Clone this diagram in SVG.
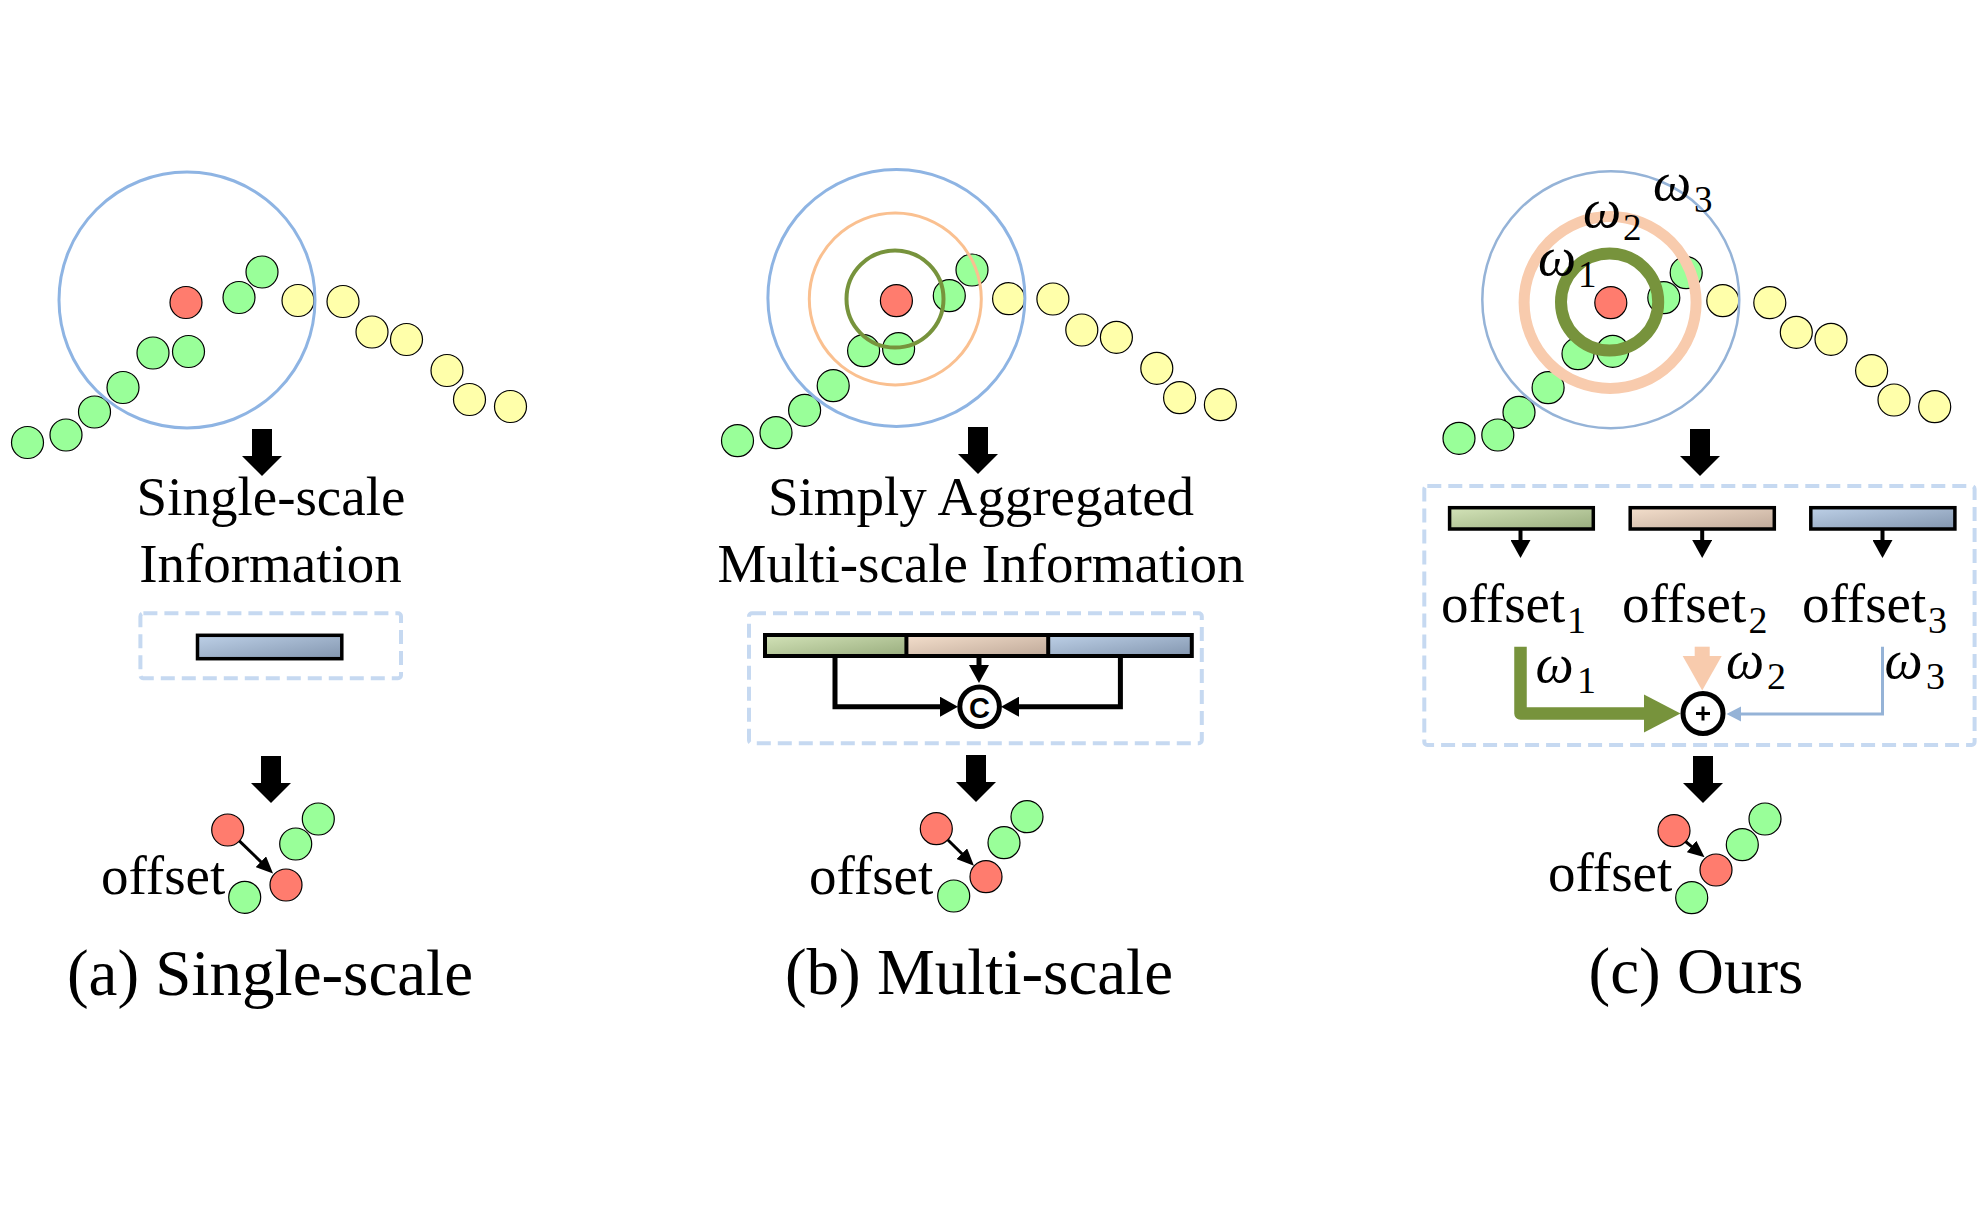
<svg xmlns="http://www.w3.org/2000/svg" xmlns:xlink="http://www.w3.org/1999/xlink" width="1985" height="1213" viewBox="0 0 1985 1213">
<style>
.g{fill:#99FF99;stroke:#000;stroke-width:1.2}
.y{fill:#FFFFAA;stroke:#000;stroke-width:1.2}
.r{fill:#FF7C6E;stroke:#000;stroke-width:1.2}
.ring{fill:none}
.t{font-family:"Liberation Serif","Times New Roman",serif;fill:#000}
.lbl{font-size:55px}
.cap{font-size:65px}
.w{font-family:"Liberation Serif","DejaVu Serif",serif;font-style:italic;font-size:54px;fill:#000}
.sub{font-family:"Liberation Serif",serif;font-style:normal}
.box{fill:none;stroke:#C6D9F1;stroke-width:4;stroke-dasharray:14 7}
.bar{stroke:#000;stroke-width:3.5}
.blk{fill:none;stroke:#000;stroke-width:5}
</style>
<defs>
<linearGradient id="gBlue" x1="0" y1="0" x2="1" y2="1"><stop offset="0" stop-color="#BDD0E7"/><stop offset="1" stop-color="#8396AF"/></linearGradient>
<linearGradient id="gGreen" x1="0" y1="0" x2="1" y2="1"><stop offset="0" stop-color="#D3E3B8"/><stop offset="1" stop-color="#99AD7E"/></linearGradient>
<linearGradient id="gOrange" x1="0" y1="0" x2="1" y2="1"><stop offset="0" stop-color="#F4DFCC"/><stop offset="1" stop-color="#BFA999"/></linearGradient>
<path id="bigArrow" d="M-10 0 H10 V27 H20 L0 47 L-20 27 H-10 Z" fill="#000"/>
<marker id="mHead" viewBox="0 0 18 20" refX="3" refY="10" markerWidth="18" markerHeight="20" markerUnits="userSpaceOnUse" orient="auto"><path d="M0 0 L18 10 L0 20 Z" fill="#000"/></marker>
<marker id="mSmall" viewBox="0 0 17 15" refX="3" refY="7.5" markerWidth="17" markerHeight="15" markerUnits="userSpaceOnUse" orient="auto"><path d="M0 0 L17 7.5 L0 15 Z" fill="#000"/></marker>
</defs>

<g id="connectors">
  <use href="#bigArrow" x="262" y="429"/>
  <use href="#bigArrow" x="271" y="756"/>
  <use href="#bigArrow" x="978" y="427"/>
  <use href="#bigArrow" x="976" y="755"/>
  <use href="#bigArrow" x="1700" y="429"/>
  <use href="#bigArrow" x="1703" y="756"/>
  <path class="blk" d="M835 656 V706.7 H943" marker-end="url(#mHead)"/>
  <path class="blk" d="M1120.4 656 V706.7 H1016" marker-end="url(#mHead)"/>
  <path class="blk" d="M979 656 V668" marker-end="url(#mHead)"/>
  <path fill="none" stroke="#000" stroke-width="4" d="M1520.5 529 V543" marker-end="url(#mHead)"/>
  <path fill="none" stroke="#000" stroke-width="4" d="M1702.2 529 V543" marker-end="url(#mHead)"/>
  <path fill="none" stroke="#000" stroke-width="4" d="M1882.5 529 V543" marker-end="url(#mHead)"/>
  <path d="M1520.5 646.7 V713.5 H1646" fill="none" stroke="#77933C" stroke-width="12.5" stroke-linejoin="round"/>
  <polygon points="1644,694.5 1680.5,713.5 1644,732.5" fill="#77933C"/>
  <rect x="1694.7" y="646.7" width="15" height="10" fill="#F8CBAD"/>
  <polygon points="1682.7,656 1721.7,656 1702.2,690.5" fill="#F8CBAD"/>
  <path d="M1882.5 646.7 V714 H1738" fill="none" stroke="#95B3D7" stroke-width="3"/>
  <polygon points="1741,706.5 1726.5,714 1741,721.5" fill="#95B3D7"/>
  <path fill="none" stroke="#000" stroke-width="3" d="M239.3 840.8 L263 863.8" marker-end="url(#mSmall)"/>
  <path fill="none" stroke="#000" stroke-width="3" d="M947.7 839.7 L964 855.8" marker-end="url(#mSmall)"/>
  <path fill="none" stroke="#000" stroke-width="3" d="M1685.5 841.5 L1693.8 848.4" marker-end="url(#mSmall)"/>
</g>

<g id="points-a">
  <circle class="g" cx="262" cy="272" r="16"/><circle class="g" cx="239" cy="297.5" r="16"/>
  <circle class="g" cx="153" cy="353" r="16"/><circle class="g" cx="188.5" cy="351.5" r="16"/>
  <circle class="g" cx="123" cy="387.5" r="16"/><circle class="g" cx="94.5" cy="412" r="16"/>
  <circle class="g" cx="66" cy="435" r="16"/><circle class="g" cx="27.5" cy="442.5" r="16"/>
  <circle class="y" cx="298" cy="300.5" r="16"/><circle class="y" cx="343" cy="301.5" r="16"/>
  <circle class="y" cx="372" cy="332" r="16"/><circle class="y" cx="406.5" cy="339.5" r="16"/>
  <circle class="y" cx="447" cy="370.5" r="16"/><circle class="y" cx="469.5" cy="399.5" r="16"/>
  <circle class="y" cx="510.5" cy="406.5" r="16"/>
  <circle class="r" cx="186" cy="302.5" r="16"/>
  <circle class="ring" cx="187" cy="300" r="128" stroke="#8EB4E3" stroke-width="3"/>
</g>

<g id="points-b">
  <circle class="g" cx="972" cy="270" r="16"/><circle class="g" cx="949.3" cy="295.7" r="16"/>
  <circle class="g" cx="863.6" cy="350.7" r="16"/><circle class="g" cx="898.6" cy="348.7" r="16"/>
  <circle class="g" cx="833.2" cy="385.7" r="16"/><circle class="g" cx="804.6" cy="410.3" r="16"/>
  <circle class="g" cx="776" cy="432.7" r="16"/><circle class="g" cx="737.5" cy="440.7" r="16"/>
  <circle class="y" cx="1008.6" cy="298.7" r="16"/><circle class="y" cx="1052.9" cy="299" r="16"/>
  <circle class="y" cx="1081.8" cy="330" r="16"/><circle class="y" cx="1116.4" cy="337.3" r="16"/>
  <circle class="y" cx="1156.8" cy="368.3" r="16"/><circle class="y" cx="1179.6" cy="397.7" r="16"/>
  <circle class="y" cx="1220.4" cy="404.7" r="16"/>
  <circle class="r" cx="896.4" cy="300.7" r="16"/>
  <circle class="ring" cx="896.4" cy="298" r="128.5" stroke="#8EB4E3" stroke-width="3"/>
  <circle class="ring" cx="895.3" cy="299" r="86" stroke="#FAC090" stroke-width="3"/>
  <circle class="ring" cx="895" cy="299" r="48.5" stroke="#77933C" stroke-width="4"/>
</g>

<g id="points-c">
  <circle class="g" cx="1686.2" cy="272.7" r="16"/><circle class="g" cx="1663.8" cy="297.7" r="16"/>
  <circle class="g" cx="1578" cy="353.7" r="16"/><circle class="g" cx="1612.7" cy="351.3" r="16"/>
  <circle class="g" cx="1548.1" cy="387.7" r="16"/><circle class="g" cx="1519" cy="412.3" r="16"/>
  <circle class="g" cx="1497.8" cy="435" r="16"/><circle class="g" cx="1459" cy="438.3" r="16"/>
  <circle class="y" cx="1722.8" cy="300.7" r="16"/><circle class="y" cx="1769.8" cy="302.7" r="16"/>
  <circle class="y" cx="1796.3" cy="332.3" r="16"/><circle class="y" cx="1831" cy="339.3" r="16"/>
  <circle class="y" cx="1871.6" cy="370.7" r="16"/><circle class="y" cx="1894" cy="400" r="16"/>
  <circle class="y" cx="1934.7" cy="406.7" r="16"/>
  <circle class="r" cx="1610.8" cy="302.7" r="16"/>
  <circle class="ring" cx="1610.8" cy="299.7" r="128.5" stroke="#95B3D7" stroke-width="2.5"/>
  <circle class="ring" cx="1610.1" cy="302.5" r="86" stroke="#F8CBAD" stroke-width="11"/>
  <circle class="ring" cx="1609.6" cy="302" r="48.6" stroke="#77933C" stroke-width="12"/>
  <text class="w" x="1538" y="275">ω<tspan class="sub" font-size="37" x="1578" y="287">1</tspan></text>
  <text class="w" x="1583" y="226.7">ω<tspan class="sub" font-size="37" x="1623" y="239.5">2</tspan></text>
  <text class="w" x="1653" y="200">ω<tspan class="sub" font-size="37" x="1694" y="212">3</tspan></text>
</g>

<g id="label-a">
  <text class="t lbl" x="271" y="515" text-anchor="middle">Single-scale</text>
  <text class="t lbl" x="270.5" y="582" text-anchor="middle">Information</text>
</g>
<g id="label-b">
  <text class="t lbl" x="981" y="515" text-anchor="middle">Simply Aggregated</text>
  <text class="t lbl" x="981" y="582" text-anchor="middle">Multi-scale Information</text>
</g>

<g id="box-a">
  <rect class="box" x="140.4" y="613.3" width="260.6" height="65" rx="3"/>
  <rect class="bar" x="197.5" y="635.3" width="144.3" height="23.4" fill="url(#gBlue)"/>
</g>

<g id="box-b">
  <rect class="box" x="749" y="613.3" width="452.8" height="130" rx="3"/>
  <rect x="765" y="635" width="141.4" height="21" fill="url(#gGreen)"/>
  <rect x="906.4" y="635" width="141.8" height="21" fill="url(#gOrange)"/>
  <rect x="1048.2" y="635" width="143.6" height="21" fill="url(#gBlue)"/>
  <rect x="765" y="635" width="426.8" height="21" fill="none" stroke="#000" stroke-width="4"/>
  <line x1="906.4" y1="635" x2="906.4" y2="656" stroke="#000" stroke-width="4"/>
  <line x1="1048.2" y1="635" x2="1048.2" y2="656" stroke="#000" stroke-width="4"/>
</g>
<g id="concat-op">
  <circle cx="979.6" cy="706.7" r="19.8" fill="#fff" stroke="#000" stroke-width="5"/>
  <text x="979.6" y="717.5" text-anchor="middle" font-family="Liberation Sans, Arial, sans-serif" font-weight="bold" font-size="29">C</text>
</g>

<g id="box-c">
  <rect class="box" x="1424.3" y="486" width="550.3" height="259" rx="3"/>
  <rect class="bar" x="1449.6" y="507.7" width="143.7" height="21.3" fill="url(#gGreen)"/>
  <rect class="bar" x="1630.2" y="507.7" width="144.1" height="21.3" fill="url(#gOrange)"/>
  <rect class="bar" x="1810.8" y="507.7" width="144.1" height="21.3" fill="url(#gBlue)"/>
  <text class="t lbl" x="1441" y="622">offset<tspan font-size="38" x="1567" y="633">1</tspan></text>
  <text class="t lbl" x="1622" y="622">offset<tspan font-size="38" x="1748.5" y="633">2</tspan></text>
  <text class="t lbl" x="1802" y="622">offset<tspan font-size="38" x="1928" y="633">3</tspan></text>
  <text class="w" x="1535.5" y="681.7">ω<tspan class="sub" font-size="38" x="1577" y="693.3">1</tspan></text>
  <text class="w" x="1726" y="678.3">ω<tspan class="sub" font-size="38" x="1767" y="689.3">2</tspan></text>
  <text class="w" x="1884.5" y="678.3">ω<tspan class="sub" font-size="38" x="1926" y="689.3">3</tspan></text>
</g>
<g id="sum-op">
  <circle cx="1703" cy="713.5" r="20" fill="#fff" stroke="#000" stroke-width="5"/>
  <path d="M1696 713.5 H1710 M1703 706.5 V720.5" stroke="#000" stroke-width="3"/>
</g>

<g id="result-a">
  <circle class="r" cx="227.7" cy="830" r="16"/>
  <circle class="g" cx="318.3" cy="819" r="16"/>
  <circle class="g" cx="295.7" cy="844" r="16"/>
  <circle class="r" cx="286" cy="885" r="16"/>
  <circle class="g" cx="244.7" cy="897.3" r="16"/>
  <text class="t lbl" x="101" y="894">offset</text>
</g>
<g id="result-b">
  <circle class="r" cx="936.3" cy="828.7" r="16"/>
  <circle class="g" cx="1027" cy="816.7" r="16"/>
  <circle class="g" cx="1004" cy="842.7" r="16"/>
  <circle class="r" cx="986" cy="876.7" r="16"/>
  <circle class="g" cx="953.7" cy="896" r="16"/>
  <text class="t lbl" x="809" y="894">offset</text>
</g>
<g id="result-c">
  <circle class="r" cx="1674" cy="830.7" r="16"/>
  <circle class="g" cx="1765" cy="819" r="16"/>
  <circle class="g" cx="1742.3" cy="844.7" r="16"/>
  <circle class="r" cx="1716" cy="870" r="16"/>
  <circle class="g" cx="1691.7" cy="897.7" r="16"/>
  <text class="t lbl" x="1548" y="891">offset</text>
</g>

<g id="captions">
  <text class="t cap" x="270" y="995" text-anchor="middle">(a) Single-scale</text>
  <text class="t cap" x="979" y="994" text-anchor="middle">(b) Multi-scale</text>
  <text class="t cap" x="1696" y="993" text-anchor="middle">(c) Ours</text>
</g>
</svg>
